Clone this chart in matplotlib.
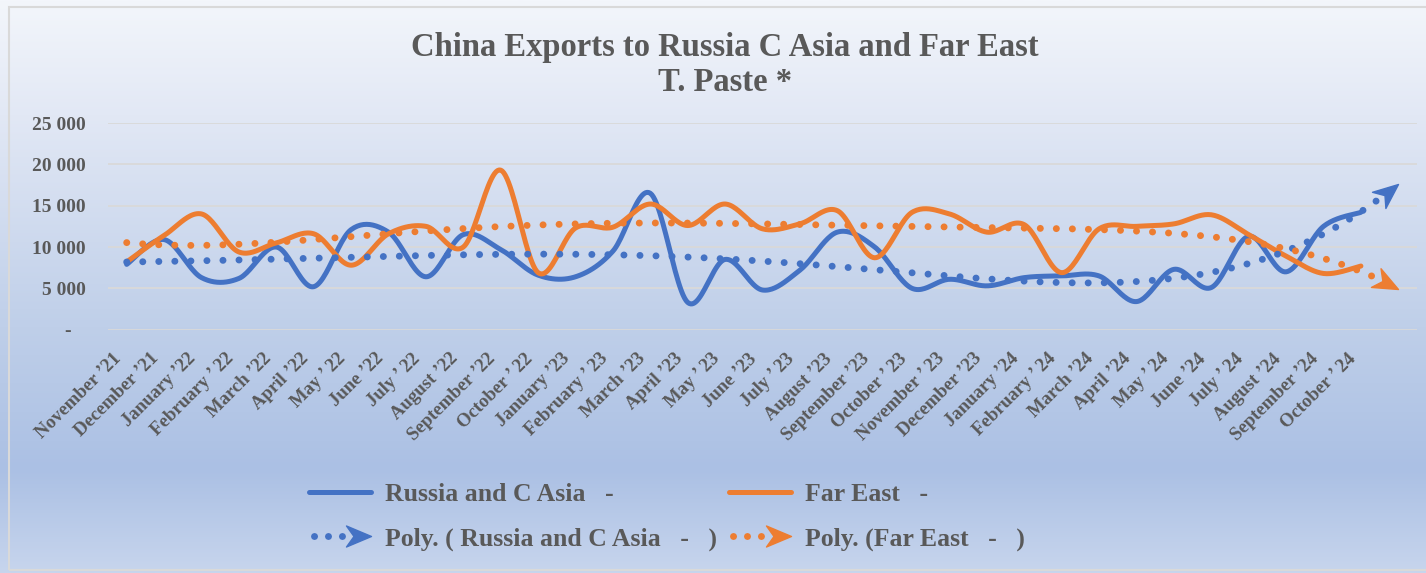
import numpy as np
import matplotlib
matplotlib.use("Agg")
import matplotlib.pyplot as plt
from matplotlib.colors import LinearSegmentedColormap
from matplotlib.lines import Line2D
from matplotlib.markers import MarkerStyle
from matplotlib.path import Path
from matplotlib.patches import Rectangle
from matplotlib.legend_handler import HandlerBase
from matplotlib.transforms import Affine2D, ScaledTranslation

months = ["November ’21", "December ’21", "January ’22", "February ’ 22", "March ’22",
          "April ’22", "May ’ 22", "June ’22", "July ’ 22", "August ’22",
          "September ’22", "October ’ 22", "January ’23", "February ’ 23", "March ’23",
          "April ’23", "May ’ 23", "June ’23", "July ’ 23", "August ’23",
          "September ’23", "October ’ 23", "November ’ 23", "December ’23", "January ’24",
          "February ’ 24", "March ’24", "April ’24", "May ’ 24", "June ’24",
          "July ’ 24", "August ’24", "September ’24", "October ’ 24"]
russia = [7900, 10900, 6300, 6200, 10000, 5200, 12100, 11800, 6400, 11500,
          9700, 6600, 6400, 9500, 16500, 3300, 8500, 4800, 7200, 11800,
          10000, 5000, 6100, 5300, 6300, 6500, 6500, 3400, 7300, 5100,
          11300, 7000, 12500, 14200]
far_east = [8200, 11400, 14000, 9400, 10500, 11600, 7800, 11600, 12500, 10000,
            19300, 6900, 12300, 12400, 15200, 12600, 15200, 12200, 12800, 14400,
            8700, 14200, 14000, 11800, 12700, 6900, 12200, 12500, 12800, 13900,
            11500, 8900, 6800, 7700]
y_ticks = [0, 5000, 10000, 15000, 20000, 25000]
title = "China Exports to Russia C Asia and Far East\nT. Paste *"
names = ["Russia and C Asia   -", "Far East   -"]
trend_names = ["Poly. ( Russia and C Asia   -   )", "Poly. (Far East   -   )"]
poly_order = 5
forward = 1

BLUE = "#4472C4"
ORANGE = "#ED7D31"
GREY = "#595959"
FONT = "Liberation Serif"
W, H = 1426, 573


def smooth(y, steps=24):
    # excel style smoothed line, bezier through each point
    y = np.asarray(y, float)
    n = len(y)
    x = np.arange(n, dtype=float)
    xs, ys = [], []
    t = np.linspace(0, 1, steps, endpoint=False)
    for i in range(n - 1):
        a, b = max(i - 1, 0), min(i + 2, n - 1)
        p = [(x[i], y[i]),
             (x[i] + (x[i + 1] - x[a]) / 6, y[i] + (y[i + 1] - y[a]) / 6),
             (x[i + 1] - (x[b] - x[i]) / 6, y[i + 1] - (y[b] - y[i]) / 6),
             (x[i + 1], y[i + 1])]
        for k, out in ((0, xs), (1, ys)):
            out.extend((1 - t) ** 3 * p[0][k] + 3 * (1 - t) ** 2 * t * p[1][k]
                       + 3 * (1 - t) * t ** 2 * p[2][k] + t ** 3 * p[3][k])
    xs.append(x[-1])
    ys.append(y[-1])
    return np.array(xs), np.array(ys)


stealth = Path([(0, 0), (-1, 0.42), (-0.7, 0), (-1, -0.42), (0, 0)],
               [Path.MOVETO, Path.LINETO, Path.LINETO, Path.LINETO, Path.CLOSEPOLY])


def arrow_marker(angle):
    return MarkerStyle(stealth, transform=Affine2D().rotate_deg(angle))


class TrendHandler(HandlerBase):
    def create_artists(self, legend, orig_handle, xdescent, ydescent, width, height, fontsize, trans):
        c = orig_handle.get_color()
        y = height / 2 - ydescent
        x0, x1 = -xdescent, width - xdescent
        dots = Line2D([x0 + 3, x1 - 16], [y, y], color=c, lw=5,
                      linestyle=(0, (0.01, 2.0)), dash_capstyle="round", transform=trans)
        head = Line2D([x1], [y], color=c, marker=arrow_marker(0), ms=36,
                      linestyle="none", transform=trans)
        return [dots, head]


fig = plt.figure(figsize=(W / 100, H / 100), dpi=100)

# background gradient
cmap = LinearSegmentedColormap.from_list("bg", [(0.0, "#f3f6fb"), (0.2, "#e2e8f5"),
                                               (0.57, "#bfcfe9"), (0.82, "#abc0e4"),
                                               (1.0, "#c7d5ed")])
bg = fig.add_axes([0, 0, 1, 1], zorder=-10)
bg.imshow(np.linspace(0, 1, 256).reshape(-1, 1), aspect="auto", cmap=cmap, extent=[0, 1, 0, 1])
bg.axis("off")
fig.patches.append(Rectangle((9 / W, 1 - 570 / H), 1.0, (570 - 7) / H, transform=fig.transFigure,
                             fill=False, ec="#d9d9d9", lw=1.5))

ax = fig.add_axes([108 / W, 1 - 329.7 / H, (1417 - 108) / W, (329.7 - 123) / H])
ax.patch.set_alpha(0)
n = len(months)
ax.set_xlim(-0.5, n - 0.5 + forward)
ax.set_ylim(y_ticks[0], y_ticks[-1])

handles = []
for vals, col in ((russia, BLUE), (far_east, ORANGE)):
    sx, sy = smooth(vals)
    h, = ax.plot(sx, sy, color=col, lw=3.6, solid_capstyle="round", zorder=3)
    handles.append(h)

trend_handles = []
for vals, col in ((russia, BLUE), (far_east, ORANGE)):
    x = np.arange(n)
    coef = np.polyfit(x, vals, poly_order)
    xt = np.linspace(0, n - 1 + forward, 400)
    yt = np.polyval(coef, xt)
    h, = ax.plot(xt, yt, color=col, lw=5, linestyle=(0, (0.01, 2.3)),
                 dash_capstyle="round", zorder=4)
    trend_handles.append(h)
    p = ax.transData.transform(np.column_stack([xt[-3:], yt[-3:]]))
    ang = np.degrees(np.arctan2(p[-1, 1] - p[0, 1], p[-1, 0] - p[0, 0]))
    ax.plot(xt[-1], yt[-1], color=col, marker=arrow_marker(ang), ms=36,
            linestyle="none", zorder=5, clip_on=False)

for s in ax.spines.values():
    s.set_visible(False)
ax.grid(axis="y", color="#d9d9d9", lw=1.3)
ax.set_axisbelow(True)
ax.tick_params(length=0)
ax.tick_params(axis="y", pad=16)
ax.tick_params(axis="x", pad=19)

ax.set_yticks(y_ticks)
ax.set_yticklabels(["-   " if v == 0 else f"{v:,}".replace(",", " ") for v in y_ticks],
                   family=FONT, weight="bold", size=14, color=GREY)
ax.set_xticks(range(n))
ax.set_xticklabels(months, rotation=45, ha="right", va="center", rotation_mode="anchor",
                   family=FONT, weight="bold", size=13.5, color=GREY)
shift = ScaledTranslation(-8 / 100, 0, fig.dpi_scale_trans)
for lab in ax.get_xticklabels():
    lab.set_transform(lab.get_transform() + shift)

fig.text(725 / W, 1 - 65 / H, title, ha="center", va="center", family=FONT,
         weight="bold", size=23.5, color=GREY, linespacing=1.2)

leg = ax.legend([handles[0], trend_handles[0], handles[1], trend_handles[1]],
                [names[0], trend_names[0], names[1], trend_names[1]],
                handler_map={trend_handles[0]: TrendHandler(), trend_handles[1]: TrendHandler()},
                ncol=2, loc="center", bbox_to_anchor=(667 / W, 1 - 517 / H),
                bbox_transform=fig.transFigure, frameon=False,
                prop=dict(family=FONT, weight="bold", size=18.5), labelcolor=GREY,
                handlelength=2.4, handletextpad=0.55, columnspacing=0.45, labelspacing=0.82)

fig.savefig("out.png", dpi=100)
